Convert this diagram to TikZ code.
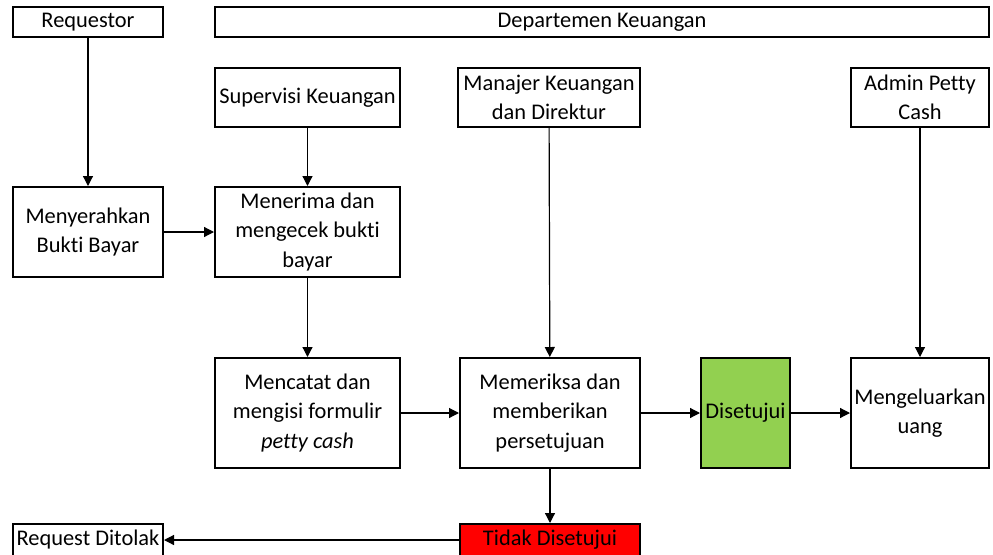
\documentclass[tikz,border=0pt]{standalone}
\usepackage{fontspec}
\setmainfont{Carlito}[Ligatures=NoCommon]
\usetikzlibrary{arrows.meta}

\definecolor{hijau}{RGB}{146,208,80}
\definecolor{merah}{RGB}{255,0,0}

\tikzset{
  box/.style 2 args={draw, line width=1.5pt, minimum width=#1*0.75pt, minimum height=#2*0.75pt},
  every node/.style={font=\fontsize{16.8pt}{22pt}\selectfont, align=center, inner sep=0pt}
}

\begin{document}
\begin{tikzpicture}[x=0.75pt, y=-0.75pt, >={Triangle[length=7.5pt, width=7.5pt]}, line width=0.9pt]
  \useasboundingbox (0, 0) rectangle (993, 554);

  \node[box={150}{30}] (req) at (88, 22) {Requestor};
  \node[box={774}{30}] (dept) at (602, 22) {Departemen Keuangan};

  \node[box={185}{59}] (sup) at (307.5, 97.5) {Supervisi Keuangan};
  \node[box={182}{59}] (man) at (549, 97.5) {Manajer Keuangan\\dan Direktur};
  \node[box={138}{59}] (adm) at (920, 97.5) {Admin Petty\\Cash};

  \node[box={150}{90}] (serah) at (88, 232) {Menyerahkan\\Bukti Bayar};
  \node[box={185}{90}] (terima) at (307.5, 232) {Menerima dan\\mengecek bukti\\bayar};

  \node[box={185}{110}] (catat) at (307.5, 413) {Mencatat dan\\mengisi formulir\\\textit{petty cash}};
  \node[box={180}{110}] (periksa) at (550, 413) {Memeriksa dan\\memberikan\\persetujuan};
  \node[box={89}{110}, fill=hijau] (setuju) at (745.5, 413) {Disetujui};
  \node[box={138}{110}] (keluar) at (920, 413) {Mengeluarkan\\uang};

  \node[box={150}{32}] (tolak) at (88, 540) {Request Ditolak};
  \node[box={180}{32}, fill=merah] (tidak) at (550, 540) {Tidak Disetujui};

  \draw[->] (req) to (serah);
  \draw[->] (sup) to (terima);
  \draw[->] (serah) to (terima);
  \draw[->] (terima) to (catat);
  \draw[->] (catat) to (periksa);
  \draw[->] (man) to (periksa);
  \draw[->] (periksa) to (setuju);
  \draw[->] (setuju) to (keluar);
  \draw[->] (adm) to (keluar);
  \draw[->] (periksa) to (tidak);
  \draw[->] (tidak) to (tolak);

\end{tikzpicture}
\end{document}
